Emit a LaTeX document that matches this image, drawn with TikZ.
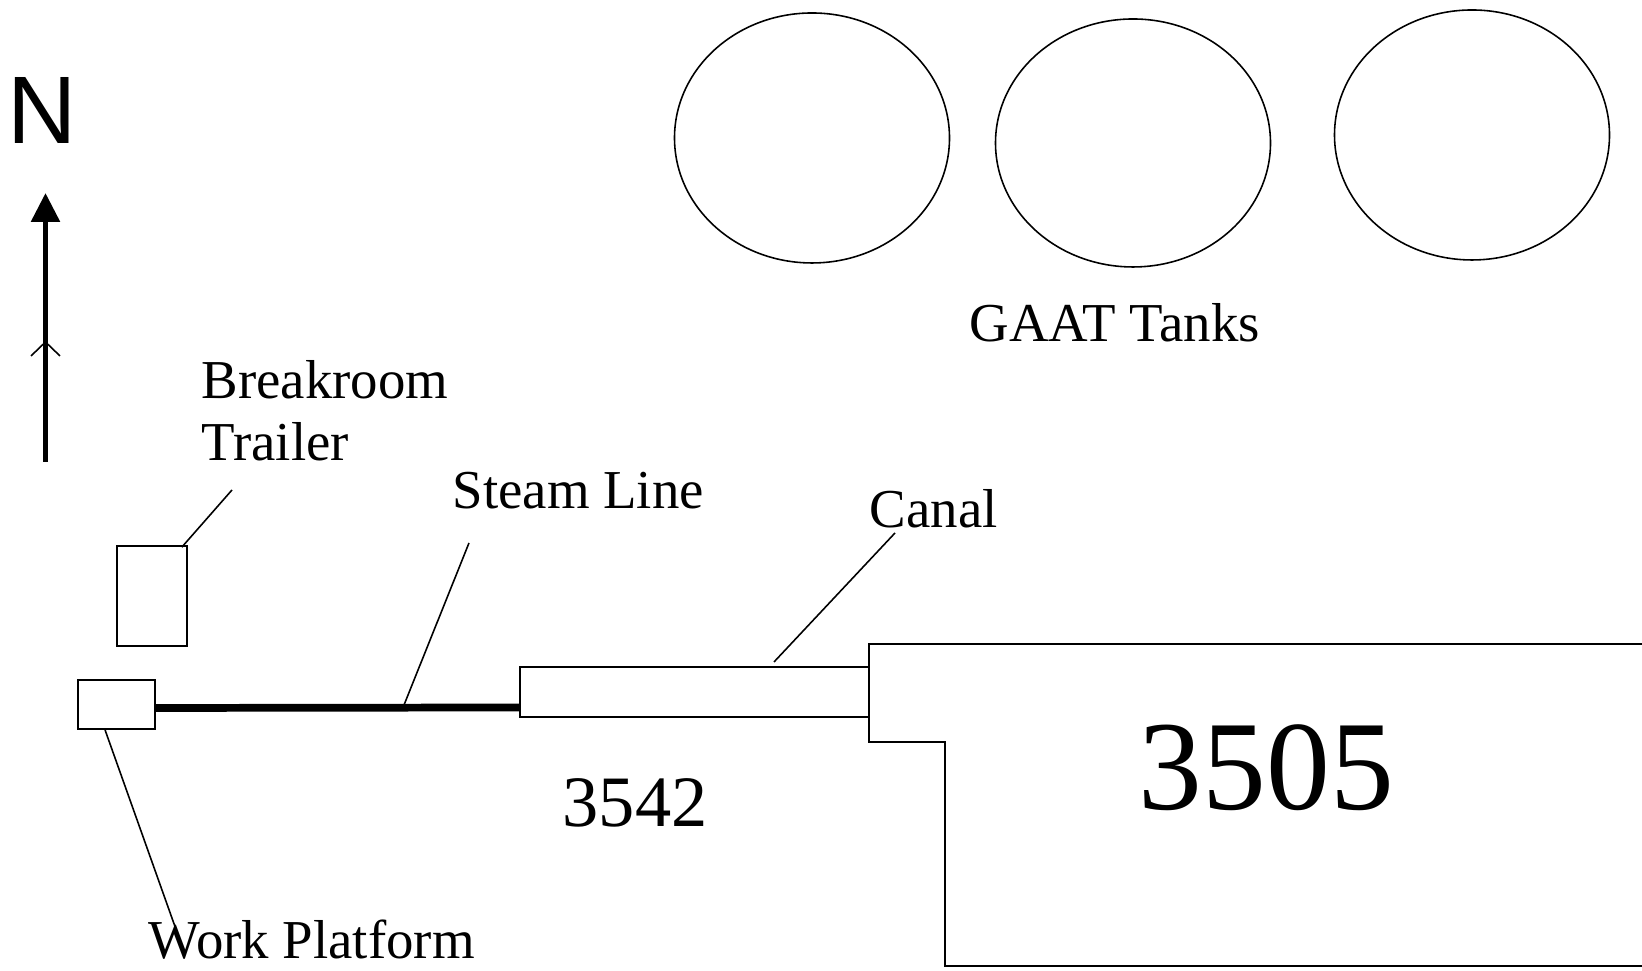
\documentclass[tikz,border=0pt]{standalone}
\usepackage{fontspec}
\setmainfont{Liberation Serif}
\newfontfamily\northfont{Liberation Sans}
\usepackage{tikz}
\usetikzlibrary{arrows.meta,positioning,calc,shapes.geometric}
\tikzset{
    every node/.style={font=\fontsize{15.6}{17.8}\selectfont, inner sep=0pt},
    planline/.style={draw=black, line width=0.45pt},
    plotbox/.style={
        planline, rectangle, minimum width=#1
    },
    tank/.style={
        planline, ellipse, minimum width=2.75cm, minimum height=2.5cm
    },
    leader/.style={planline},
    steamline/.style={draw=black, line width=2.2pt},
    northarrow/.style={
        -{Triangle[length=2.9mm,width=2.8mm]}, line width=1.6pt
    },
    plantext/.style={anchor=base west, align=left},
}

\begin{document}
\begin{tikzpicture}
    \useasboundingbox (0,0) rectangle (16.42,9.71);

    % North arrow
    \node[anchor=base, font=\northfont\fontsize{27.3}{30}\selectfont] (north) at (0.425,8.27) {N};
    \coordinate (arrowfoot) at (0.455,5.09);
    \coordinate (arrowtip) at (0.455,7.78);
    \draw[northarrow] (arrowfoot) -- (arrowtip);
    \draw[planline] (0.31,6.15) -- (0.455,6.29) -- (0.60,6.15);

    % GAAT tanks
    \node[tank] (tank1) at (8.12,8.33) {};
    \node[tank, minimum height=2.48cm] (tank2) at (11.33,8.28) {};
    \node[tank] (tank3) at (14.72,8.36) {};
    \node[plantext] (tanklbl) at (9.69,6.29) {GAAT Tanks};

    % Breakroom trailer (base is the last line)
    \node[plotbox=0.70cm, minimum height=1.00cm] (trailer) at (1.52,3.75) {};
    \node[plantext] (trailerlbl) at (2.01,5.10) {Breakroom\\Trailer};
    \coordinate (trailertip) at (2.32,4.81);
    \draw[leader] ([xshift=-0.6mm,yshift=-0.2mm]trailer.north east) -- (trailertip);

    % Work platform and steam line
    \node[plotbox=0.77cm, minimum height=0.49cm] (platform) at (1.165,2.665) {};
    \node[plotbox=3.49cm, minimum height=0.50cm] (canal) at (6.945,2.79) {};
    \draw[steamline] ([yshift=-0.35mm]platform.east) -- ([yshift=-1.55mm]canal.west);

    \node[plantext] (steamlbl) at (4.52,4.62) {Steam Line};
    \coordinate (steamfoot) at (4.03,2.635);
    \coordinate (steamtip) at (4.69,4.28);
    \draw[leader] (steamfoot) -- (steamtip);

    \node[plantext] (platformlbl) at (1.48,0.12) {Work Platform};
    \coordinate (platformtip) at (1.78,0.36);
    \draw[leader] ([xshift=-1.15mm]platform.south) -- (platformtip);

    % Canal
    \node[plantext] (canallbl) at (8.69,4.43) {Canal};
    \coordinate (canalfoot) at (7.74,3.09);
    \coordinate (canaltip) at (8.95,4.38);
    \draw[leader] (canalfoot) -- (canaltip);

    % Building 3505 outline
    \draw[planline] (16.42,3.27) -- (8.69,3.27) -- (8.69,2.29) -- (9.45,2.29)
        -- (9.45,0.05) -- (16.42,0.05);

    % Building numbers
    \node[plantext, font=\fontsize{20.6}{24}\selectfont] (bldgA) at (5.62,1.44) {3542};
    \node[plantext, font=\fontsize{36.3}{40}\selectfont] (bldgB) at (11.38,1.61) {3505};
\end{tikzpicture}
\end{document}
